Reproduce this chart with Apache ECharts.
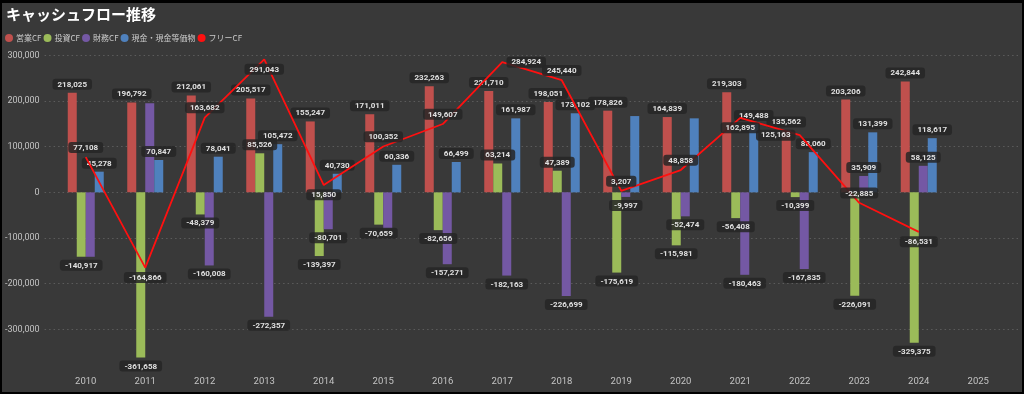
<!DOCTYPE html>
<html>
<head>
<meta charset="utf-8">
<script src="https://cdn.jsdelivr.net/npm/echarts@6/dist/echarts.min.js"></script>
<style>
html,body{margin:0;padding:0;background:#000;width:1024px;height:394px;overflow:hidden;}
#c{position:absolute;left:2px;top:3px;width:1020px;height:389px;background:#393939;}
</style>
</head>
<body>
<div id="c"></div>
<script>
// ---- data ----
const years = ['2010','2011','2012','2013','2014','2015','2016','2017','2018','2019','2020','2021','2022','2023','2024','2025'];
const operatingCF = [218025,196792,212061,205517,155247,171011,232263,221710,198051,178826,164839,219303,135562,203206,242844,null];
const investingCF = [-140917,-361658,-48379,85526,-139397,-70659,-82656,63214,47389,-175619,-115981,-56408,-10399,-226091,-329375,null];
const financingCF = [-141000,195000,-160008,-272357,-80701,-79000,-157271,-182163,-226699,-9997,-52474,-180463,-167835,35909,58125,null];
const cashEquiv = [45278,70847,78041,105472,40730,60336,66499,161987,173102,167000,162000,149488,88060,131399,118617,null];
const freeCF = [77108,-164866,163682,291043,15850,100352,149607,284924,245440,3207,48858,162895,125163,-22885,-86531,null];
const seriesNames = ['営業CF','投資CF','財務CF','現金・現金等価物','フリーCF'];
const yMin = -400000, yMax = 300000, yStep = 100000;

// ---- styles ----
const colors = ['#c0504d','#9bbb59','#7458a4','#4f81bd','#ff1010'];
const unlabeled = {2: ['2010','2011','2015'], 3: ['2019','2020']};
const fcfLabelOverride = {'2013':'bottom','2014':'bottom','2017':'right','2021':'bottom','2022':'left','2023':'top'};
const fmt = v => Number(v).toLocaleString('en-US');
const numFont = 'Roboto, "Liberation Sans", sans-serif';
const labelBase = {
  show: true, color: '#e0e0e0', fontFamily: numFont, fontWeight: 'bold', fontSize: 8,
  backgroundColor: 'rgba(38,38,38,0.85)', padding: [2,5,1,5], borderRadius: 3, distance: 3,
  formatter: p => fmt(p.value)
};

function barData(arr, idx) {
  return arr.map((v, i) => {
    if (v == null) return null;
    const hide = (unlabeled[idx] || []).includes(years[i]);
    return { value: v, label: hide ? {show:false} : { position: v >= 0 ? 'top' : 'bottom' } };
  });
}
function lineData(arr) {
  return arr.map((v, i) => {
    if (v == null) return null;
    const pos = fcfLabelOverride[years[i]] || (v >= 0 ? 'top' : 'bottom');
    return { value: v, label: { position: pos } };
  });
}

const barArrays = [operatingCF, investingCF, financingCF, cashEquiv];
const series = barArrays.map((arr, k) => ({
  name: seriesNames[k], type: 'bar', xAxisIndex: 1, yAxisIndex: 1,
  barWidth: 9, barGap: '0%', itemStyle: { color: colors[k] },
  label: Object.assign({}, labelBase), labelLayout: {hideOverlap:false},
  data: barData(arr, k), z: 2
}));
series.push({
  name: seriesNames[4], type: 'line', xAxisIndex: 1, yAxisIndex: 1,
  showSymbol: true, symbol: 'circle', symbolSize: 0.5,
  lineStyle: { color: colors[4], width: 1.8 }, itemStyle: { color: colors[4] },
  label: Object.assign({}, labelBase, {distance: 4}),
  data: lineData(freeCF), z: 5
});

const chart = echarts.init(document.getElementById('c'), null, {renderer: 'canvas'});
chart.setOption({
  backgroundColor: '#393939',
  animation: false,
  title: {
    text: 'キャッシュフロー推移', left: 4, top: 4, padding: 0,
    textStyle: { color: '#ffffff', fontSize: 15, fontWeight: 'bold', fontFamily: 'Noto Sans CJK JP' }
  },
  legend: {
    left: 3, top: 31, padding: 0, itemGap: 2, itemWidth: 8, itemHeight: 8, icon: 'circle',
    data: seriesNames,
    textStyle: { color: '#cccccc', fontSize: 8, fontFamily: 'Noto Sans CJK JP', padding: [0,0,0,-2] }
  },
  grid: [
    { left: 41, right: 4, top: 52.3, bottom: 16.9 },
    { left: 54, right: 14, top: 52.3, bottom: 16.9 }
  ],
  xAxis: [
    { gridIndex: 0, type: 'category', data: years, show: false },
    { gridIndex: 1, type: 'category', data: years,
      axisLine: {show:false}, axisTick: {show:false},
      axisLabel: { color: '#c4c4c4', fontSize: 9.5, fontFamily: numFont, margin: 2 } }
  ],
  yAxis: [
    { gridIndex: 0, type: 'value', min: yMin, max: yMax, interval: yStep,
      axisLine: {show:false}, axisTick: {show:false},
      axisLabel: { color: '#c4c4c4', fontSize: 9, fontFamily: numFont, margin: 5, showMinLabel: false,
        formatter: v => fmt(v) },
      splitLine: { show: true, showMinLine: false, lineStyle: { color: '#5c5c5c', type: [1.5,3], width: 1 } } },
    { gridIndex: 1, type: 'value', min: yMin, max: yMax, interval: yStep, show: false, splitLine: {show:false} }
  ],
  series: series
});
</script>
</body>
</html>
